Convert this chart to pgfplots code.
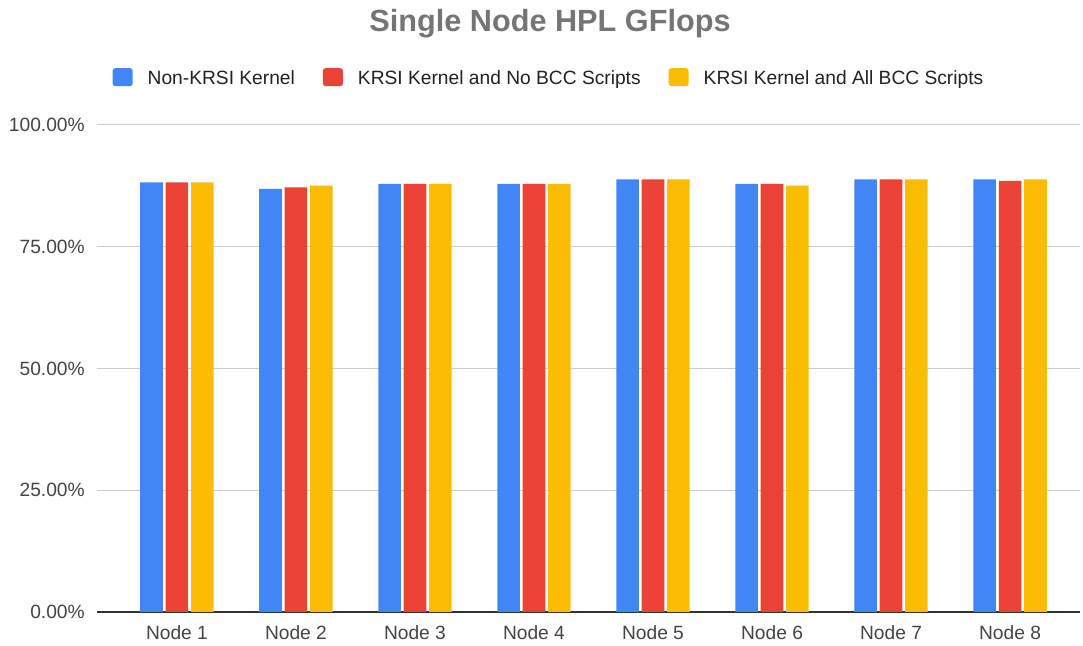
\documentclass[border=0pt]{standalone}
\usepackage{fontspec}
\setmainfont{Liberation Sans}
\usepackage{pgfplots}
\pgfplotsset{compat=1.18}
\definecolor{cblue}{HTML}{4285F4}
\definecolor{cred}{HTML}{EA4335}
\definecolor{cyellow}{HTML}{FBBC04}
\definecolor{cgrid}{HTML}{CCCCCC}
\definecolor{caxis}{HTML}{333333}
\definecolor{ctitle}{HTML}{757575}
\definecolor{clabel}{HTML}{444444}
\definecolor{clegend}{HTML}{222222}
\begin{document}
\begin{tikzpicture}
\path[use as bounding box] (-72.75pt,-25.5pt) rectangle (739.5pt,459pt);
\begin{axis}[
  at={(0,0)}, anchor=south west,
  scale only axis, width=737.25pt, height=365.25pt,
  ybar=2.2pt, bar width=16.9pt,
  xmin=-0.672, xmax=7.588, ymin=0, ymax=100,
  xtick={0,1,2,3,4,5,6,7},
  xticklabels={Node 1,Node 2,Node 3,Node 4,Node 5,Node 6,Node 7,Node 8},
  ytick={0,25,50,75,100},
  yticklabels={0.00\%,25.00\%,50.00\%,75.00\%,100.00\%},
  major tick length=0pt,
  axis line style={draw=none},
  ymajorgrids, grid style={draw=cgrid, line width=0.75pt},
  extra y ticks={0}, extra y tick labels={},
  extra y tick style={grid style={draw=caxis, line width=1pt}},
  tick label style={font=\fontsize{14.4}{17}\selectfont, text=clabel},
  yticklabel style={anchor=east, inner sep=0pt, xshift=-9pt},
  xticklabel style={anchor=base, inner sep=0pt, yshift=-21pt},
  title={Single Node HPL GFlops},
  title style={at={(axis description cs:0.4608,1.1916)}, anchor=base, inner sep=0pt, yshift=-6pt,
    font=\bfseries\fontsize{23}{28}\selectfont, text=ctitle},
  legend columns=3,
  legend style={at={(axis description cs:0.4588,1.098)}, anchor=center,
    draw=none, fill=none, font=\fontsize{14.4}{17}\selectfont, text=clegend,
    nodes={inner sep=0pt},
    /tikz/every odd column/.append style={column sep=11.25pt},
    /tikz/every even column/.append style={column sep=21pt}},
  legend image code/.code={\fill[#1, rounded corners=2pt] (0pt,-5.8pt) rectangle (15pt,7.7pt);},
]
\addplot[fill=cblue, draw=none] coordinates {(0,88.23) (1,86.86) (2,87.89) (3,87.89) (4,88.85) (5,87.89) (6,88.85) (7,88.85)};
\addplot[fill=cred, draw=none] coordinates {(0,88.23) (1,87.21) (2,87.89) (3,87.89) (4,88.85) (5,87.89) (6,88.85) (7,88.50)};
\addplot[fill=cyellow, draw=none] coordinates {(0,88.23) (1,87.54) (2,87.89) (3,87.89) (4,88.85) (5,87.54) (6,88.85) (7,88.85)};
\legend{Non-KRSI Kernel, KRSI Kernel and No BCC Scripts, KRSI Kernel and All BCC Scripts}
\end{axis}
\end{tikzpicture}
\end{document}
